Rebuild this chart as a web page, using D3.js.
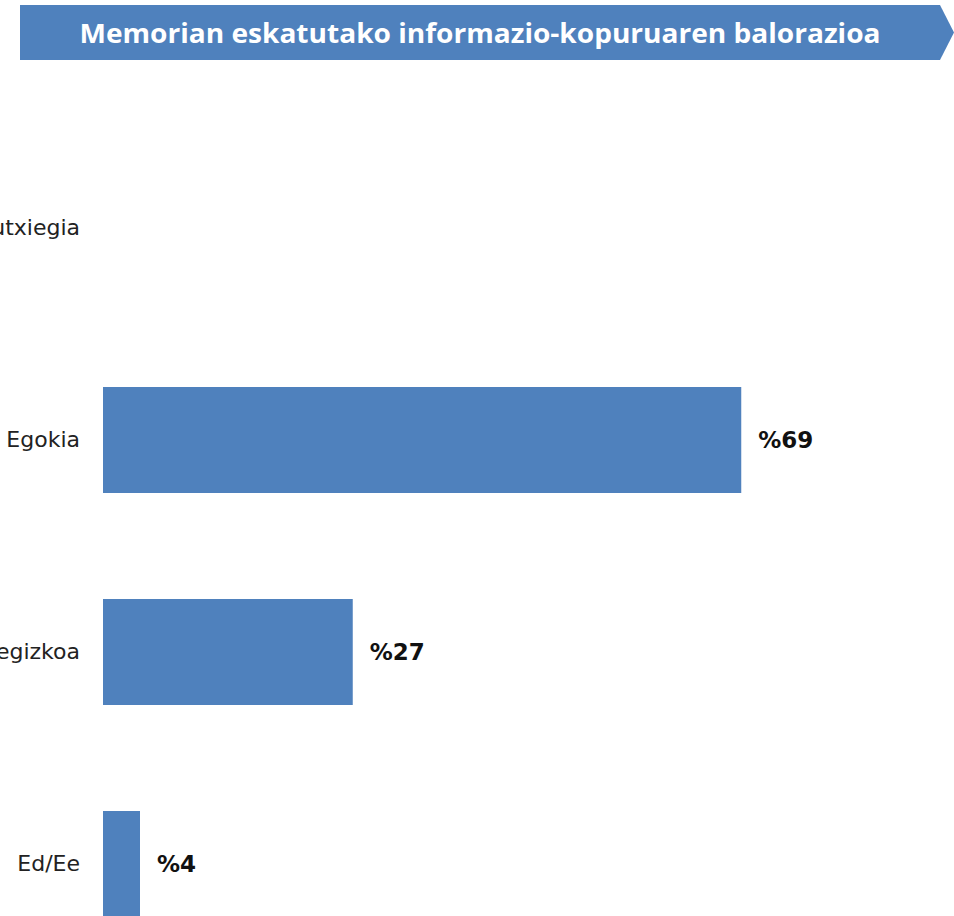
<!DOCTYPE html>
<html>
<head>
<meta charset="utf-8">
<script src="https://cdn.jsdelivr.net/npm/d3@7"></script>
<style>
  html, body { margin: 0; padding: 0; background: #fff; overflow: hidden; }
  svg { display: block; }
</style>
</head>
<body>
<svg></svg>
<script>
const width = 954;
const height = 916;

const title = "Memorian eskatutako informazio-kopuruaren balorazioa";
const categories = ["Gutxiegia", "Egokia", "Gehiegizkoa", "Ed/Ee"];
const values = [0, 69, 27, 4];

const barColor = "#4F81BD";
const data = categories.map((c, i) => ({ cat: c, value: values[i] }));

const svg = d3.select("svg")
  .attr("width", width)
  .attr("height", height);

// title banner (arrow shape)
const bannerTop = 5, bannerBottom = 60;
svg.append("path")
  .attr("d", `M20,${bannerTop} L940,${bannerTop} L954,${(bannerTop + bannerBottom) / 2} L940,${bannerBottom} L20,${bannerBottom} Z`)
  .attr("fill", barColor);

svg.append("text")
  .attr("x", 480)
  .attr("y", 43)
  .attr("text-anchor", "middle")
  .attr("fill", "#fff")
  .style("font-family", "'Open Sans', sans-serif")
  .style("font-weight", "bold")
  .style("font-size", "26px")
  .attr("textLength", 801)
  .attr("lengthAdjust", "spacingAndGlyphs")
  .text(title);

const xScale = d3.scaleLinear()
  .domain([0, 100])
  .range([103, 1028]);

const yScale = d3.scaleBand()
  .domain(categories)
  .range([122, 970])
  .paddingInner(0.5)
  .paddingOuter(0.25);

// category labels (the long ones run off the left edge, as in the original)
svg.append("g")
  .attr("transform", `translate(${xScale(0)},0)`)
  .call(d3.axisLeft(yScale).tickSize(0).tickPadding(23))
  .call(g => g.select(".domain").remove())
  .selectAll("text")
    .attr("fill", "#222")
    .style("font-family", "'DejaVu Sans', sans-serif")
    .style("font-size", "22px");

svg.selectAll(".bar")
  .data(data)
  .enter()
  .append("rect")
    .classed("bar", true)
    .attr("x", xScale(0))
    .attr("y", d => yScale(d.cat))
    .attr("width", d => xScale(d.value) - xScale(0))
    .attr("height", yScale.bandwidth())
    .attr("fill", barColor);

svg.selectAll(".val")
  .data(data.filter(d => d.value > 0))
  .enter()
  .append("text")
    .classed("val", true)
    .attr("x", d => xScale(d.value) + 17)
    .attr("y", d => yScale(d.cat) + yScale.bandwidth() / 2)
    .attr("dy", "0.35em")
    .attr("fill", "#111")
    .style("font-family", "'DejaVu Sans', sans-serif")
    .style("font-weight", "bold")
    .style("font-size", "23px")
    .text(d => `%${d.value}`);
</script>
</body>
</html>
